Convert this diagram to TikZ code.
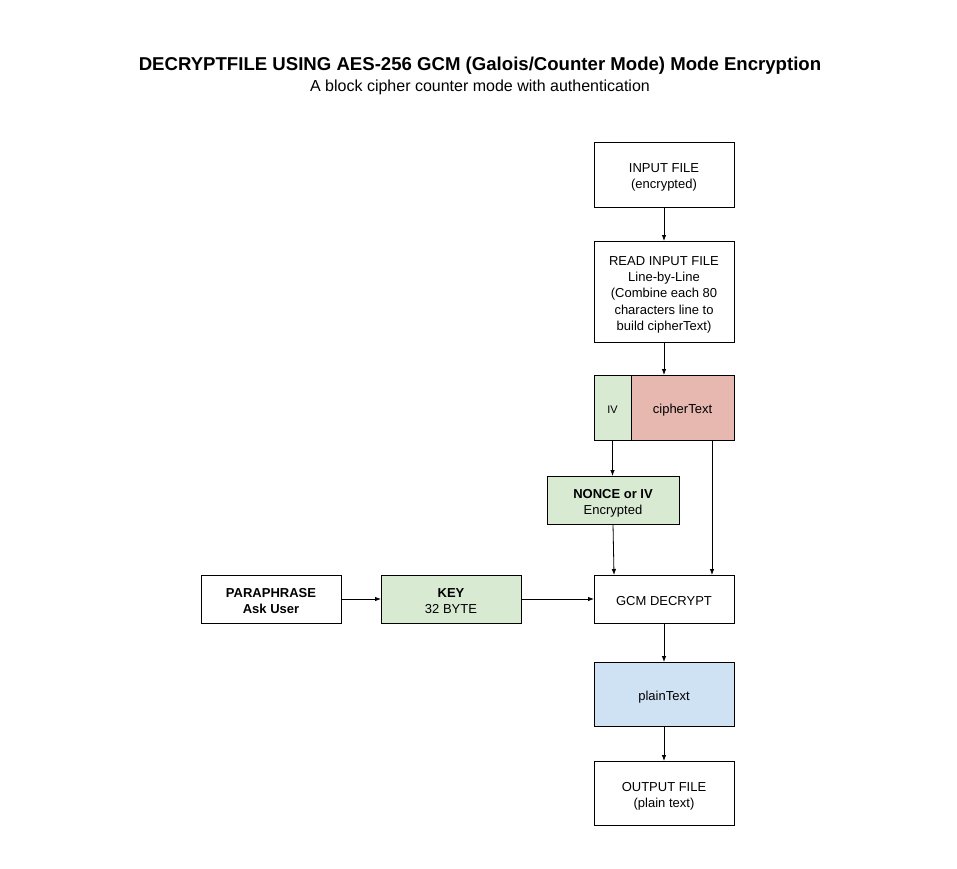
\documentclass[tikz,border=0pt]{standalone}
\usepackage{fontspec}
\setmainfont{Liberation Sans}
\usetikzlibrary{arrows.meta}
\definecolor{lgreen}{HTML}{D9EAD3}
\definecolor{lred}{HTML}{E6B8AF}
\definecolor{lblue}{HTML}{CFE2F3}
\newcommand\bt[1]{\raisebox{-3pt}[\height][\depth]{\begin{tabular}{@{}c@{}}#1\end{tabular}}}
\begin{document}
\begin{tikzpicture}[x=1pt,y=-1pt,
  box/.style={draw=black,line width=0.8pt,inner sep=0pt,outer sep=0pt,align=center,
    font=\fontsize{13}{16.25}\selectfont},
  arr/.style={line width=0.8pt,-{Latex[length=6pt,width=4.5pt]}}]
\useasboundingbox (0,0) rectangle (957,868);
\node[font=\fontsize{18.6}{22}\selectfont\bfseries] (title) at (480,66) {DECRYPTFILE USING AES-256 GCM (Galois/Counter Mode) Mode Encryption};
\node[font=\fontsize{16}{19}\selectfont] (sub) at (480,87) {A block cipher counter mode with authentication};
\node[box,minimum width=140pt,minimum height=65pt] (in) at (664,174.5) {\bt{INPUT FILE\\(encrypted)}};
\node[box,minimum width=140pt,minimum height=101pt] (read) at (664,291.5) {\bt{READ INPUT FILE\\Line-by-Line\\(Combine each 80\\characters line to\\build cipherText)}};
\node[box,fill=lgreen,minimum width=37pt,minimum height=65pt,font=\fontsize{11}{13}\selectfont] (iv) at (612.5,407.5) {\bt{IV}};
\node[box,fill=lred,minimum width=103pt,minimum height=65pt] (ct) at (682.5,407.5) {\bt{cipherText}};
\node[box,fill=lgreen,minimum width=132pt,minimum height=48pt] (nonce) at (613,500) {\bt{\textbf{NONCE or IV}\\Encrypted}};
\node[box,minimum width=140pt,minimum height=48pt] (gcm) at (664,599) {\bt{GCM DECRYPT}};
\node[box,minimum width=140pt,minimum height=48pt] (para) at (271,599) {\bt{\textbf{PARAPHRASE}\\\textbf{Ask User}}};
\node[box,fill=lgreen,minimum width=140pt,minimum height=48pt] (key) at (451,599) {\bt{\textbf{KEY}\\32 BYTE}};
\node[box,fill=lblue,minimum width=140pt,minimum height=64pt] (plain) at (664,694) {\bt{plainText}};
\node[box,minimum width=140pt,minimum height=64pt] (out) at (664,793) {\bt{OUTPUT FILE\\(plain text)}};
\draw[arr] (in) -- (read);
\draw[arr] (read.south) -- ([xshift=-18.5pt]ct.north);
\draw[arr] (iv.south) -- (iv.south |- nonce.north);
\draw[arr] (nonce.south) -- ([xshift=-50pt]gcm.north);
\draw[arr] ([xshift=29.5pt]ct.south) -- ([xshift=48pt]gcm.north);
\draw[arr] (para) -- (key);
\draw[arr] (key) -- (gcm);
\draw[arr] (gcm) -- (plain);
\draw[arr] (plain) -- (out);
\end{tikzpicture}
\end{document}
